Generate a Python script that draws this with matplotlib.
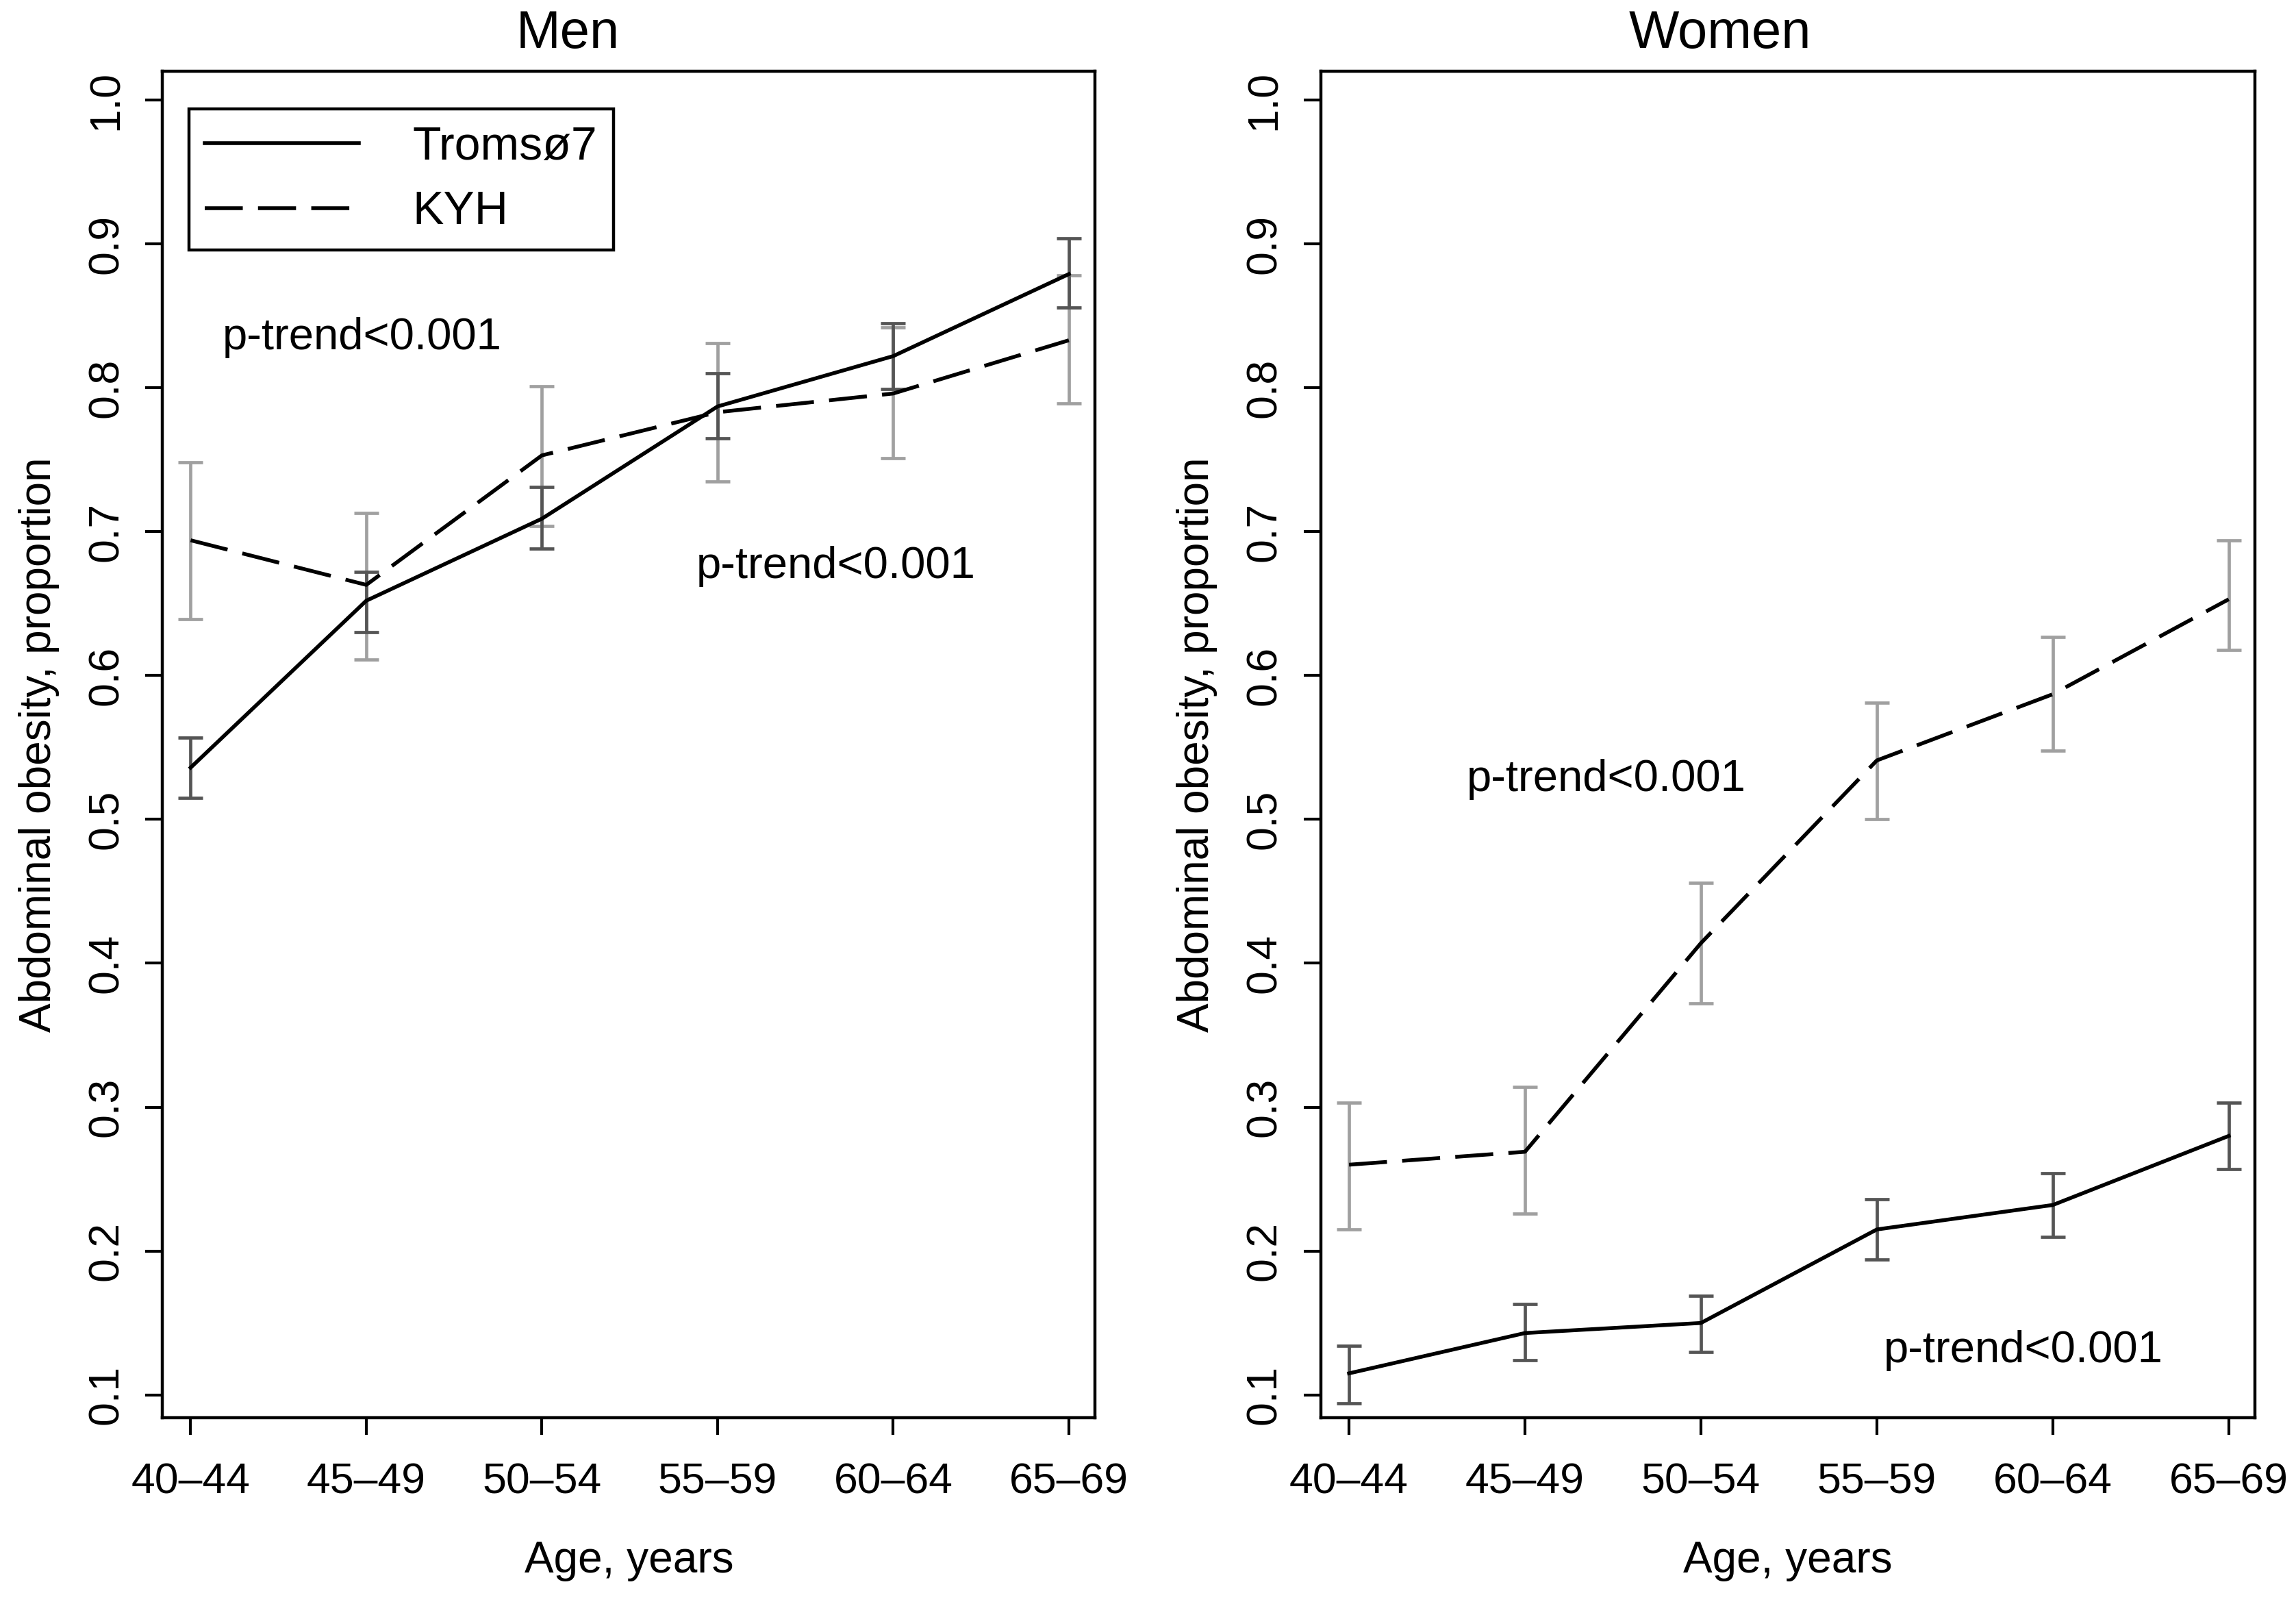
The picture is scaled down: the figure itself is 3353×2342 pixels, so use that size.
import matplotlib
matplotlib.use("Agg")
import matplotlib.pyplot as plt
import numpy as np

plt.rcParams['font.family'] = ['Liberation Sans', 'DejaVu Sans']

AGE_GROUPS = ['40\u201344', '45\u201349', '50\u201354', '55\u201359', '60\u201364', '65\u201369']

# Men
men_tromso = [0.536, 0.652, 0.709, 0.787, 0.822, 0.879]
men_tromso_lo = [0.515, 0.630, 0.688, 0.765, 0.799, 0.856]
men_tromso_hi = [0.557, 0.672, 0.731, 0.810, 0.845, 0.904]
men_kyh = [0.694, 0.663, 0.753, 0.783, 0.796, 0.833]
men_kyh_lo = [0.639, 0.611, 0.704, 0.735, 0.751, 0.789]
men_kyh_hi = [0.748, 0.713, 0.801, 0.831, 0.842, 0.878]

# Women
women_tromso = [0.115, 0.143, 0.150, 0.215, 0.232, 0.280]
women_tromso_lo = [0.094, 0.124, 0.130, 0.194, 0.210, 0.257]
women_tromso_hi = [0.134, 0.163, 0.169, 0.236, 0.254, 0.303]
women_kyh = [0.260, 0.269, 0.414, 0.541, 0.587, 0.653]
women_kyh_lo = [0.215, 0.226, 0.372, 0.500, 0.548, 0.618]
women_kyh_hi = [0.303, 0.314, 0.456, 0.581, 0.627, 0.694]

YTICKS = [0.1, 0.2, 0.3, 0.4, 0.5, 0.6, 0.7, 0.8, 0.9, 1.0]

# p-trend labels: (x, y) in data units
men_ptrend = [(0.18, 0.835), (2.88, 0.676)]
women_ptrend = [(0.67, 0.528), (3.04, 0.131)]

DARK = '#555555'
LIGHT = '#a0a0a0'
DASH = (0, (10, 4))


def panel(ax, tr, tr_lo, tr_hi, ky, ky_lo, ky_hi, ptrend):
    x = np.arange(len(AGE_GROUPS))
    tr, ky = np.array(tr), np.array(ky)
    ax.errorbar(x, ky, yerr=[ky - np.array(ky_lo), np.array(ky_hi) - ky],
                fmt='none', ecolor=LIGHT, elinewidth=1.7, capsize=6.5, capthick=1.7, zorder=2)
    ax.errorbar(x, tr, yerr=[tr - np.array(tr_lo), np.array(tr_hi) - tr],
                fmt='none', ecolor=DARK, elinewidth=1.7, capsize=6.5, capthick=1.7, zorder=2)
    ax.plot(x, tr, color='black', lw=2.0, ls='-', label='Troms\u00f87', zorder=3)
    ax.plot(x, ky, color='black', lw=2.0, ls=DASH, label='KYH', zorder=3)
    for px, py in ptrend:
        ax.text(px, py, 'p-trend<0.001', fontsize=23.5, ha='left', va='center')
    ax.set_xlim(-0.16, 5.15)
    ax.set_ylim(0.084, 1.02)
    ax.set_xticks(x)
    ax.set_xticklabels(AGE_GROUPS)
    ax.set_yticks(YTICKS)
    ax.set_yticklabels([f'{v:.1f}' for v in YTICKS], rotation=90, va='center')
    ax.tick_params(axis='both', labelsize=22.5, length=9, width=1.5, direction='out', pad=10)
    ax.tick_params(axis='x', pad=14)
    for s in ax.spines.values():
        s.set_linewidth(1.6)
    ax.set_xlabel('Age, years', fontsize=23, labelpad=20)
    ax.set_ylabel('Abdominal obesity, proportion', fontsize=23, labelpad=14)


fig = plt.figure(figsize=(16.765, 11.71), dpi=200)
ax1 = fig.add_axes([0.0708, 0.116, 0.4062, 0.8396])
ax2 = fig.add_axes([0.5753, 0.116, 0.4069, 0.8396])

panel(ax1, men_tromso, men_tromso_lo, men_tromso_hi, men_kyh, men_kyh_lo, men_kyh_hi, men_ptrend)
panel(ax2, women_tromso, women_tromso_lo, women_tromso_hi, women_kyh, women_kyh_lo, women_kyh_hi, women_ptrend)

leg = ax1.legend(loc='upper left', bbox_to_anchor=(0.028, 0.972), borderaxespad=0,
                 fontsize=24.5, handlelength=3.3, handletextpad=1.15, labelspacing=0.45,
                 borderpad=0.35, fancybox=False, framealpha=1, edgecolor='black')
leg.get_frame().set_linewidth(1.6)

fig.text(0.2474, 0.979, 'Men', fontsize=28, ha='center', va='center')
fig.text(0.749, 0.979, 'Women', fontsize=28, ha='center', va='center')

fig.savefig('out.png', dpi=200)
